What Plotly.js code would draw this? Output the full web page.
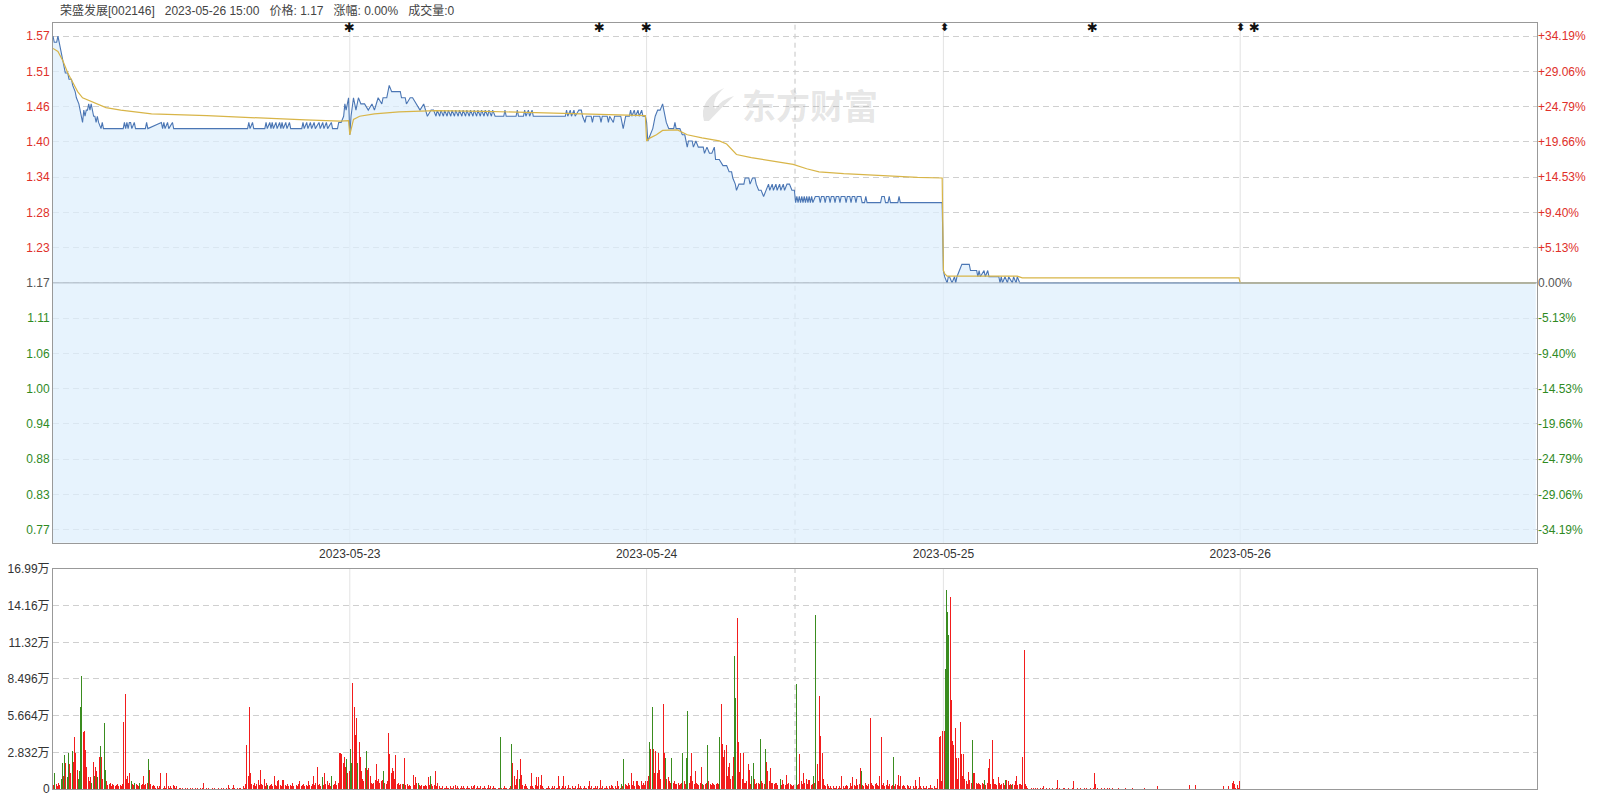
<!DOCTYPE html>
<html><head><meta charset="utf-8">
<script src="https://cdn.plot.ly/plotly-3.0.1.min.js"></script>
<style>html,body{margin:0;padding:0;background:#fff}#chart{width:1597px;height:800px}</style>
</head><body><div id="chart"></div>
<script>
// ---------------- DATA ----------------
const stockName = '荣盛发展';
const stockCode = '002146';
const prevClose = 1.17;
const limitPct = 0.3419;
const dateLabels = ['2023-05-23', '2023-05-24', '2023-05-25', '2023-05-26'];
const priceTickLabels = ['0.77','0.83','0.88','0.94','1.00','1.06','1.11','1.17','1.23','1.28','1.34','1.40','1.46','1.51','1.57'];
const pctTickLabels = ['-34.19%','-29.06%','-24.79%','-19.66%','-14.53%','-9.40%','-5.13%','0.00%','+5.13%','+9.40%','+14.53%','+19.66%','+24.79%','+29.06%','+34.19%'];
const volTickVals = [0, 2.832, 5.664, 8.496, 11.32, 14.16, 16.99];
const volTickLabels = ['0','2.832万','5.664万','8.496万','11.32万','14.16万','16.99万'];

// price: minute-of-day and price at that minute (day 1 = 2023-05-22)
const d1PriceMin = [0,1,3,4,5,7,9,10,12,13,15,16,18,19,21,22,24,25,26,27,28,29,30,31,32,33,34,35,36,37,39,40,41,57,58,59,60,61,62,63,64,66,67,75,76,77,88,89,90,91,93,94,97,98,158,159,160,162,163,172,173,174,176,177,178,179,181,182,184,185,186,187,189,190,192,193,202,203,204,206,207,209,210,212,213,216,217,219,220,222,223,226,227,231,232,234,236,237,238,239,240];
const d1Price    = [1.57,1.56,1.56,1.57,1.56,1.54,1.52,1.51,1.51,1.50,1.50,1.49,1.48,1.47,1.46,1.45,1.43,1.45,1.44,1.45,1.45,1.46,1.45,1.46,1.45,1.44,1.44,1.43,1.44,1.43,1.42,1.43,1.42,1.42,1.43,1.42,1.43,1.42,1.43,1.43,1.42,1.43,1.42,1.42,1.43,1.42,1.43,1.42,1.43,1.42,1.43,1.42,1.43,1.42,1.42,1.43,1.42,1.43,1.42,1.42,1.43,1.42,1.43,1.42,1.43,1.42,1.43,1.42,1.43,1.42,1.43,1.42,1.43,1.42,1.43,1.42,1.42,1.43,1.42,1.43,1.42,1.43,1.42,1.43,1.42,1.43,1.42,1.43,1.42,1.43,1.42,1.43,1.42,1.42,1.43,1.43,1.44,1.46,1.45,1.46,1.47];
const d1AvgMin = [0,4,8,12,16,20,24,30,36,43,55,80,125,165,205,233,240];
const d1Avg    = [1.55,1.545,1.53,1.51,1.495,1.48,1.47,1.465,1.46,1.454,1.45,1.444,1.441,1.437,1.434,1.432,1.433];

const d2PriceMin = [0,1,3,5,7,9,12,15,18,20,23,26,27,30,32,34,38,41,42,45,46,49,51,54,57,60,63,66,68,70,71,73,74,76,77,79,80,82,83,85,86,88,89,91,92,94,95,97,98,100,101,103,104,106,107,109,110,112,113,115,116,118,120,125,126,127,135,136,137,141,142,143,145,146,148,149,160,175,176,177,179,180,182,183,186,188,189,191,192,196,197,198,203,204,205,209,210,211,214,215,220,221,222,223,224,227,228,229,231,232,234,235,237,238,240];
const d2Price    = [1.41,1.44,1.47,1.45,1.47,1.46,1.46,1.45,1.46,1.45,1.47,1.46,1.47,1.47,1.49,1.48,1.48,1.48,1.47,1.47,1.46,1.47,1.47,1.46,1.45,1.46,1.44,1.45,1.45,1.44,1.45,1.44,1.45,1.44,1.45,1.44,1.45,1.44,1.45,1.44,1.45,1.44,1.45,1.44,1.45,1.44,1.45,1.44,1.45,1.44,1.45,1.44,1.45,1.44,1.45,1.44,1.45,1.44,1.45,1.44,1.45,1.44,1.44,1.44,1.45,1.44,1.44,1.45,1.44,1.44,1.45,1.44,1.45,1.44,1.45,1.44,1.44,1.44,1.45,1.44,1.45,1.44,1.45,1.44,1.45,1.45,1.44,1.43,1.44,1.44,1.43,1.44,1.44,1.43,1.44,1.44,1.43,1.44,1.43,1.44,1.44,1.43,1.42,1.43,1.44,1.44,1.45,1.44,1.45,1.44,1.45,1.44,1.45,1.44,1.44];
const d2AvgMin = [0,1,3,8,20,40,70,110,150,200,240];
const d2Avg    = [1.41,1.42,1.435,1.44,1.444,1.447,1.449,1.448,1.446,1.443,1.441];

const d3PriceMin = [0,1,3,5,7,9,11,13,14,16,18,20,22,23,24,27,29,31,33,34,37,38,40,42,44,46,47,49,51,53,55,56,59,62,65,67,69,70,72,73,75,77,79,80,83,84,86,88,89,91,93,95,97,99,100,102,103,105,106,108,109,111,112,114,116,118,120,121,122,123,124,125,126,127,128,129,130,131,132,133,134,135,137,140,141,142,144,145,146,148,149,150,152,153,154,156,157,158,161,162,163,165,166,167,169,170,171,174,175,177,178,179,190,191,193,194,196,197,198,204,205,206,240];
const d3Price    = [1.43,1.40,1.41,1.42,1.44,1.45,1.45,1.46,1.45,1.43,1.42,1.42,1.42,1.43,1.42,1.42,1.41,1.41,1.39,1.40,1.40,1.39,1.40,1.39,1.39,1.39,1.38,1.39,1.38,1.38,1.39,1.37,1.37,1.36,1.36,1.35,1.35,1.34,1.33,1.32,1.33,1.33,1.33,1.34,1.34,1.33,1.34,1.34,1.33,1.32,1.32,1.31,1.32,1.33,1.32,1.33,1.32,1.33,1.32,1.33,1.32,1.33,1.32,1.33,1.33,1.32,1.32,1.30,1.31,1.30,1.31,1.30,1.31,1.30,1.31,1.30,1.31,1.30,1.31,1.30,1.31,1.30,1.31,1.31,1.30,1.31,1.31,1.30,1.31,1.31,1.30,1.31,1.31,1.30,1.31,1.31,1.30,1.31,1.31,1.30,1.31,1.31,1.30,1.31,1.31,1.30,1.31,1.31,1.30,1.30,1.31,1.30,1.30,1.31,1.31,1.30,1.30,1.31,1.30,1.30,1.31,1.30,1.30];
const d3AvgMin = [0,3,8,13,25,33,45,59,65,70,73,85,94,110,119,130,140,160,176,200,220,240];
const d3Avg    = [1.40,1.405,1.41,1.417,1.418,1.41,1.405,1.40,1.395,1.385,1.378,1.373,1.37,1.365,1.362,1.355,1.35,1.347,1.345,1.343,1.341,1.34];

const d4PriceMin = [0,1,3,4,5,7,9,10,11,13,15,21,22,27,28,29,30,33,34,36,37,45,46,47,48,50,52,53,56,57,59,60,62,240];
const d4Price    = [1.19,1.18,1.17,1.18,1.18,1.17,1.18,1.17,1.18,1.19,1.20,1.20,1.19,1.19,1.18,1.19,1.18,1.19,1.18,1.19,1.18,1.18,1.17,1.18,1.17,1.18,1.17,1.18,1.17,1.18,1.17,1.18,1.17,1.17];
const d4AvgMin = [0,1,3,60,64,240];
const d4Avg    = [1.19,1.185,1.181,1.181,1.178,1.178];

const d5PriceMin = [0,240];
const d5Price    = [1.17,1.17];
const d5AvgMin = [0,240];
const d5Avg    = [1.17,1.17];

// per-minute volume in thousand shares; negative = down minute (green)
const d1Vol = [
3,-12,4,2,5,3,-8,-20,10,-26,20,-9,-28,19,12,-29,21,40,28,15,
-8,-14,-63,-87,44,45,30,17,9,6,9,-5,21,-10,17,14,-9,25,-33,25,
8,-51,-15,6,3,4,5,2,4,3,2,3,4,2,3,2,4,52,73,8,
10,5,12,-6,4,3,-5,4,3,2,-5,3,4,10,3,4,5,-23,15,4,
2,3,2,1,2,1,2,12,2,1,2,1,12,2,1,2,1,3,2,1,
2,12,1,1,0,1,0,1,0,1,0,1,0,1,0,1,0,1,0,1,
0,1,5,0,1,0,1,0,0,1,0,1,0,0,1,0,1,0,1,0,
1,0,3,1,0,1,3,1,0,1,0,1,1,0,2,1,4,34,10,63,
12,4,3,5,2,4,7,3,15,4,3,8,2,5,-3,2,3,4,2,10,
3,2,6,7,3,2,7,7,3,2,4,2,3,2,5,2,5,3,2,4,
6,2,3,4,2,3,2,6,3,2,4,10,3,5,17,3,4,2,-9,3,
12,4,6,3,5,2,-10,3,4,6,3,5,28,28,27,20,25,17,-23,12,
14];
const d2Vol = [
-31,-20,82,63,42,55,-20,36,25,14,8,6,16,-29,15,16,10,5,4,5,
7,19,6,8,5,6,7,-14,5,4,6,43,27,12,16,14,8,26,4,5,
3,4,4,-4,24,3,4,2,3,2,4,11,3,9,5,-5,3,2,3,2,
2,3,2,9,3,-10,4,2,3,14,2,5,2,1,1,2,1,1,2,1,
1,2,1,1,2,3,1,2,1,1,2,1,2,1,1,2,1,1,2,1,
2,3,1,2,1,1,2,1,1,2,1,1,3,1,2,1,2,1,1,0,
1,1,-40,1,1,2,1,1,0,1,2,-35,20,10,3,8,15,-8,23,11,
3,2,4,2,1,3,2,12,2,1,3,9,2,9,3,11,2,1,2,1,
1,2,1,1,2,1,2,1,1,10,2,1,2,10,1,2,1,3,1,1,
2,1,1,2,1,4,1,2,1,1,2,1,1,2,6,1,2,1,1,2,
1,2,1,7,1,2,1,1,2,1,2,1,3,2,1,2,1,6,2,1,
-4,2,-23,4,3,2,5,3,12,3,6,2,6,6,3,2,6,3,5,3,
6];
const d3Vol = [
6,10,-36,31,-63,31,12,29,12,28,15,8,10,66,28,-24,8,9,6,5,
-24,5,6,4,4,5,3,4,5,-28,6,4,-24,-60,5,10,28,6,4,14,
5,4,3,5,17,-4,3,4,5,-34,6,4,3,5,4,3,4,5,4,-40,
66,35,25,30,34,10,17,20,8,10,25,-103,-70,132,36,13,28,8,28,5,
5,6,19,15,4,-10,-20,8,4,5,5,4,-39,6,5,4,-31,21,14,6,
16,5,5,4,5,5,3,4,-8,3,7,4,3,11,4,5,4,3,2,3,
-33,-81,3,4,27,6,4,12,5,8,4,7,7,3,4,-10,5,-134,19,6,
72,41,28,8,3,2,4,2,1,2,1,2,1,1,2,1,2,1,10,2,
1,2,3,2,1,5,2,9,3,2,8,3,4,16,-14,3,2,5,3,2,
4,55,5,3,2,4,5,3,2,10,40,3,5,2,3,7,2,4,2,3,
-25,2,4,3,11,2,10,2,3,2,1,3,2,1,2,5,2,1,7,2,
1,9,2,1,2,1,1,2,1,1,3,1,1,2,1,1,8,40,41,6,
45];
const d4Vol = [
45,-93,-154,-137,-119,148,69,37,34,47,24,8,24,52,27,10,27,8,6,4,
13,7,5,-38,12,12,5,4,5,4,3,5,4,-7,3,5,16,23,4,38,
8,4,4,3,9,5,3,4,5,3,-7,7,6,3,4,-3,4,3,6,10,
3,4,4,3,25,107,4,2,1,1,0,1,0,1,1,0,1,0,1,0,
1,2,0,1,0,0,1,0,1,0,0,1,7,0,1,0,0,1,1,0,
0,1,0,0,1,6,0,0,1,0,0,1,0,0,1,0,1,0,0,1,
0,1,12,4,0,1,0,0,1,0,1,0,0,1,1,0,0,1,0,0,
0,0,1,0,0,0,0,1,0,0,0,0,0,1,0,0,0,0,0,0,
0,0,0,1,0,0,0,0,0,0,0,0,0,2,0,0,0,0,0,0,
0,0,0,0,0,0,0,0,0,0,0,0,0,0,0,0,0,0,0,3,
0,0,0,0,3,0,0,0,0,0,0,0,0,0,0,0,0,0,0,0,
0,0,0,0,0,0,0,2,0,0,0,2,0,0,5,6,4,1,3,1,
6];
const d5Vol = [];

// news markers: [day index, minute, symbol]
const markerDay = [1, 1, 2, 3, 3, 4, 4];
const markerMin = [0, 203, 0, 1, 121, 0, 12];
const markerSym = ['✱', '✱', '✱', '⬍', '✱', '⬍', '✱'];

// ---------------- BUILD ----------------
(function () {
const MIN_PER_DAY = 241;
const NDAYS = 5;
const RED = '#f21d1d', GREEN = '#3a8c1f';
const days = [
  [d1PriceMin, d1Price, d1AvgMin, d1Avg, d1Vol],
  [d2PriceMin, d2Price, d2AvgMin, d2Avg, d2Vol],
  [d3PriceMin, d3Price, d3AvgMin, d3Avg, d3Vol],
  [d4PriceMin, d4Price, d4AvgMin, d4Avg, d4Vol],
  [d5PriceMin, d5Price, d5AvgMin, d5Avg, d5Vol]
];
const px = [], py = [], ax = [], ay = [], vx = [], vy = [], vc = [];
days.forEach((d, i) => {
  const off = i * MIN_PER_DAY;
  d[0].forEach((m, j) => { px.push(off + m); py.push(d[1][j]); });
  d[2].forEach((m, j) => { ax.push(off + m); ay.push(d[3][j]); });
  d[4].forEach((v, m) => {
    if (v !== 0) { vx.push(off + m + 0.5); vy.push(Math.abs(v) / 10); vc.push(v < 0 ? GREEN : RED); }
  });
});

const topPrice = +(prevClose * (1 + limitPct)).toFixed(2);
const step = (topPrice - prevClose) / 7;
const tickVals = priceTickLabels.map((_, k) => prevClose + (k - 7) * step);
const pad = step * 0.37;
const yRange = [tickVals[0] - pad, tickVals[14] + pad];
const colorFor = k => k > 7 ? '#e0302a' : (k < 7 ? '#2f8a1f' : '#555555');
const leftText = priceTickLabels.map((t, k) => `<span style="color:${colorFor(k)}">${t}</span>`);
const rightText = pctTickLabels.map((t, k) => `<span style="color:${colorFor(k)}">${t}</span>`);

const FONT = 'Arial, "Liberation Sans", "Noto Sans CJK SC", sans-serif';
const XMAX = NDAYS * MIN_PER_DAY;
const boundaries = [1, 2, 3, 4].map(i => i * MIN_PER_DAY);

const traces = [
  { x: px, y: py, xaxis: 'x', yaxis: 'y', type: 'scatter', mode: 'lines',
    line: { color: '#4b76b4', width: 1.1 }, fill: 'tozeroy', fillcolor: 'rgba(222,239,252,0.72)', hoverinfo: 'skip' },
  { x: ax, y: ay, xaxis: 'x', yaxis: 'y', type: 'scatter', mode: 'lines',
    line: { color: '#d8b548', width: 1.2 }, hoverinfo: 'skip' },
  { x: [0, XMAX], y: yRange, xaxis: 'x', yaxis: 'y3', type: 'scatter', mode: 'lines',
    line: { width: 0 }, opacity: 0, hoverinfo: 'skip' },
  { x: vx, y: vy, xaxis: 'x2', yaxis: 'y2', type: 'bar', width: 0.8,
    marker: { color: vc, line: { width: 0 } }, hoverinfo: 'skip' }
];

// page-pixel -> paper helpers for the decorative watermark logo
const PL = 53, PW = 1484, PB = 789, PH = 766;
const fx = p => ((p - PL) / PW).toFixed(4);
const fy = p => ((PB - p) / PH).toFixed(4);
const logoPath = `M${fx(704)},${fy(121)} Q${fx(698)},${fy(100)} ${fx(724)},${fy(88)} ` +
  `Q${fx(711)},${fy(100)} ${fx(715)},${fy(109)} Q${fx(722)},${fy(99)} ${fx(734)},${fy(96)} ` +
  `Q${fx(721)},${fy(108)} ${fx(709)},${fy(121)} Z`;

const shapes = [];
boundaries.forEach(b => {
  ['y', 'y2'].forEach((yr, k) => shapes.push({ type: 'line', xref: k ? 'x2' : 'x', yref: yr + ' domain',
    x0: b, x1: b, y0: 0, y1: 1, line: { color: '#e3e3e3', width: 1 }, layer: 'below' }));
});
['y', 'y2'].forEach((yr, k) => shapes.push({ type: 'line', xref: k ? 'x2' : 'x', yref: yr + ' domain',
  x0: XMAX / 2, x1: XMAX / 2, y0: 0, y1: 1, line: { color: '#c4c4c4', width: 1, dash: '5px,4px' }, layer: 'below' }));
shapes.push({ type: 'line', xref: 'x domain', yref: 'y', x0: 0, x1: 1, y0: prevClose, y1: prevClose,
  line: { color: '#a9b4bf', width: 1 }, layer: 'above' });
shapes.push({ type: 'path', xref: 'paper', yref: 'paper', path: logoPath,
  fillcolor: 'rgba(170,170,170,0.3)', line: { width: 0 }, layer: 'above' });

const annotations = [
  { xref: 'paper', yref: 'paper', x: 0.0034, y: 1.0157, xanchor: 'left', yanchor: 'middle', showarrow: false,
    text: `${stockName}[${stockCode}]\u00a0\u00a0\u00a02023-05-26 15:00\u00a0\u00a0\u00a0价格: 1.17\u00a0\u00a0\u00a0涨幅: 0.00%\u00a0\u00a0\u00a0成交量:0`,
    font: { family: FONT, size: 12, color: '#444' } },
  { xref: 'paper', yref: 'paper', x: fx(810), y: fy(105), xanchor: 'center', yanchor: 'middle', showarrow: false,
    text: '<b>东方财富</b>', font: { family: '"Noto Sans CJK SC", sans-serif', size: 34, color: 'rgba(170,170,170,0.3)' } }
];
markerDay.forEach((d, i) => annotations.push({ xref: 'x', yref: 'paper', x: d * MIN_PER_DAY + markerMin[i],
  y: 0.9935, xanchor: 'center', yanchor: 'middle', showarrow: false, text: '<b>' + markerSym[i] + '</b>',
  font: { family: '"DejaVu Sans", sans-serif', size: markerSym[i] === '✱' ? 13 : 11, color: '#111' } }));

const axisLine = { showline: true, linecolor: '#999', linewidth: 1, mirror: true, zeroline: false };
const layout = {
  width: 1597, height: 800, margin: { l: 53, r: 60, t: 23, b: 11 },
  paper_bgcolor: '#fff', plot_bgcolor: '#fff', showlegend: false, bargap: 0,
  font: { family: FONT, size: 12, color: '#333' },
  xaxis: Object.assign({ domain: [0, 1], range: [0, XMAX], anchor: 'y', showgrid: false,
    tickmode: 'array', tickvals: boundaries, ticktext: dateLabels, ticks: '', tickfont: { size: 12, color: '#333' } }, axisLine),
  yaxis: Object.assign({ domain: [0.3215, 1], range: yRange, anchor: 'x', tickmode: 'array', tickvals: tickVals,
    ticktext: leftText, showgrid: true, gridcolor: '#cfcfcf', griddash: '6px,4px', ticks: '', tickfont: { size: 12 } }, axisLine),
  yaxis3: { overlaying: 'y', side: 'right', anchor: 'x', range: yRange, tickmode: 'array', tickvals: tickVals,
    ticktext: rightText, showgrid: false, zeroline: false, showline: false, ticks: '', tickfont: { size: 12 } },
  xaxis2: Object.assign({ domain: [0, 1], range: [0, XMAX], anchor: 'y2', showgrid: false, showticklabels: false, ticks: '' }, axisLine),
  yaxis2: Object.assign({ domain: [0, 0.2872], range: [0, 16.99], anchor: 'x2', tickmode: 'array', tickvals: volTickVals,
    ticktext: volTickLabels, showgrid: true, gridcolor: '#cfcfcf', griddash: '6px,4px', ticks: '', tickfont: { size: 12, color: '#333' } }, axisLine),
  shapes: shapes, annotations: annotations
};
Plotly.newPlot('chart', traces, layout, { staticPlot: true, displayModeBar: false });
})();
</script></body></html>
